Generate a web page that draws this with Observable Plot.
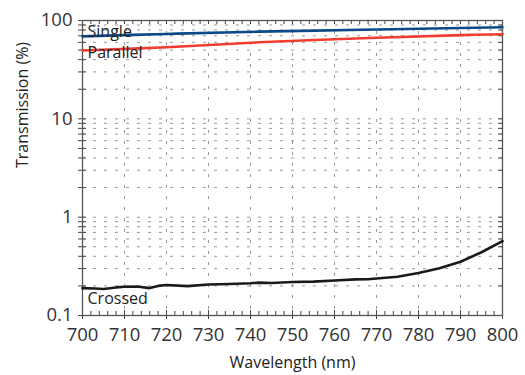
<!DOCTYPE html>
<html><head><meta charset="utf-8">
<script src="https://cdn.jsdelivr.net/npm/d3@7"></script>
<script src="https://cdn.jsdelivr.net/npm/@observablehq/plot@0.6"></script>
<style>body{margin:0;background:#fff;} svg{display:block;}</style>
</head><body><div id="chart"></div>
<script>
const smoothWl = [700, 720, 742, 770, 790, 800];
const singleT = [69, 73, 77, 81, 84, 85.5];
const parallelT = [49.5, 53.5, 60, 66.7, 71, 72.6];
const crossedWl = [700,703,705,708,710,713,716,718,720,725,730,735,740,742,745,750,755,760,765,768,770,775,780,785,790,795,800];
const crossedT = [0.19,0.188,0.186,0.193,0.196,0.197,0.19,0.2,0.204,0.199,0.207,0.209,0.213,0.216,0.214,0.219,0.221,0.227,0.233,0.234,0.238,0.248,0.27,0.302,0.352,0.44,0.57];
const xTicks = [700,710,720,730,740,750,760,770,780,790,800];
const yTicks = [0.1, 1, 10, 100];
const yTickLabels = ["0.1", "1", "10", "100"];
const labelNames = ["Single", "Parallel", "Crossed"];
const labelX = [701.2, 701.2, 701.2];
const labelY = [76, 46.5, 0.146];

const xMinor = d3.range(700, 801, 2);
const yLog = [];
for (const d of [0.1, 1, 10]) for (let k = 1; k <= 10; k++) yLog.push(+(d*k).toPrecision(3));
const yLogU = Array.from(new Set(yLog));

const single = smoothWl.map((w,i)=>({w, t: singleT[i]}));
const parallel = smoothWl.map((w,i)=>({w, t: parallelT[i]}));
const crossed = crossedWl.map((w,i)=>({w, t: crossedT[i]}));
const labels = labelNames.map((n,i)=>({n, x: labelX[i], y: labelY[i]}));

const W = 525, H = 375, mL = 82, mR = 23, mT = 20, mB = 60;
const fw = W - mL - mR, fh = H - mT - mB;
const grid = {stroke: "#999", strokeOpacity: 1, strokeDasharray: "3,8", strokeWidth: 1};

const chart = Plot.plot({
  width: W, height: H,
  marginLeft: mL, marginRight: mR, marginTop: mT, marginBottom: mB,
  style: {fontFamily: "'Open Sans', sans-serif", color: "#333", background: "#fff"},
  x: {domain: [700, 800]},
  y: {type: "log", domain: [0.1, 100]},
  marks: [
    Plot.ruleX(xTicks, grid),
    Plot.ruleY(yLogU, grid),
    Plot.ruleX(xMinor, {stroke: "#444", insetTop: fh - 4}),
    Plot.ruleX(xTicks, {stroke: "#444", insetTop: fh - 5, insetBottom: -4}),
    Plot.ruleX(xMinor, {stroke: "#444", insetBottom: fh - 4}),
    Plot.ruleY(yLogU, {stroke: "#444", insetRight: fw - 4, insetLeft: -4}),
    Plot.ruleY(yLogU, {stroke: "#444", insetLeft: fw - 4}),
    Plot.frame({stroke: "#555", strokeWidth: 1.3}),
    Plot.line(single, {x: "w", y: "t", stroke: "#0b4a86", strokeWidth: 2.6, curve: "catmull-rom"}),
    Plot.line(parallel, {x: "w", y: "t", stroke: "#f23c30", strokeWidth: 2.6, curve: "catmull-rom"}),
    Plot.line(crossed, {x: "w", y: "t", stroke: "#1a1a1a", strokeWidth: 2.6}),
    Plot.text(labels, {x: "x", y: "y", text: "n", textAnchor: "start", fontSize: 16, lineHeight: 0.9, fill: "#222"}),
    Plot.axisX(xTicks, {tickSize: 0, tickPadding: 12, fontSize: 18.5, tickFormat: d => String(d), label: null}),
    Plot.axisY(yTicks, {tickSize: 0, tickPadding: 10, fontSize: 18.5, tickFormat: (d) => yTickLabels[yTicks.indexOf(d)], label: null}),
    Plot.text(["Wavelength (nm)"], {frameAnchor: "bottom", dy: 52, fontSize: 16, fill: "#222"}),
    Plot.text(["Transmission (%)"], {frameAnchor: "left", dx: -60, rotate: -90, fontSize: 16, fill: "#222"})
  ]
});
document.getElementById("chart").append(chart);
</script></body></html>
